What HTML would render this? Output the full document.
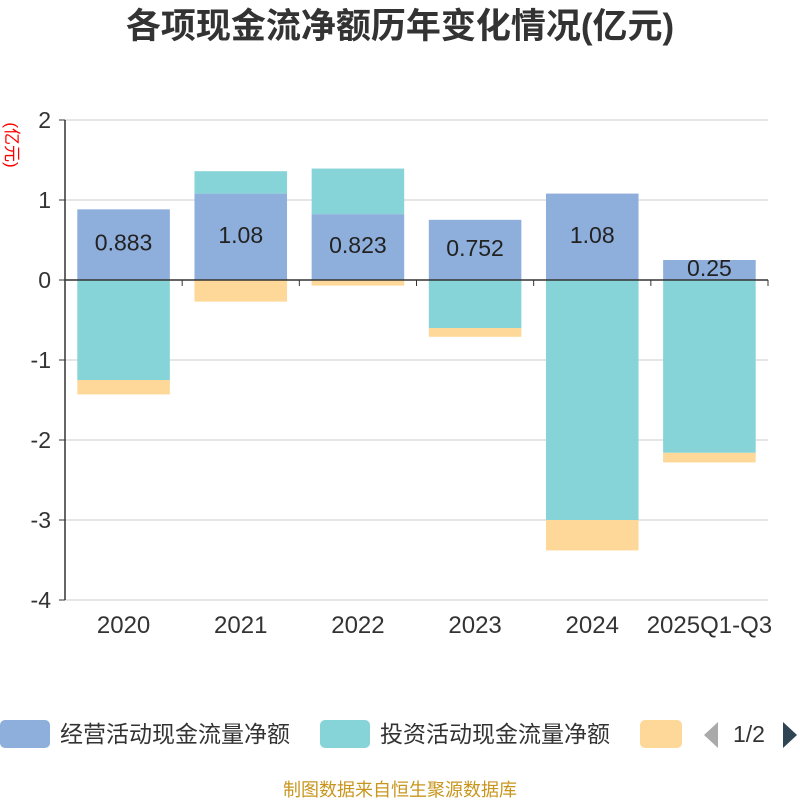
<!DOCTYPE html>
<html><head><meta charset="utf-8"><style>
body{margin:0;background:#fff;font-family:"Liberation Sans","Noto Sans CJK SC",sans-serif}
</style></head><body>
<svg width="800" height="800" xmlns="http://www.w3.org/2000/svg" font-family="Liberation Sans, Noto Sans CJK SC, sans-serif">
<text x="400" y="38" text-anchor="middle" font-size="35" font-weight="bold" fill="#333">各项现金流净额历年变化情况(亿元)</text>
<text transform="translate(6,145) rotate(90)" text-anchor="middle" font-size="17" fill="#f00">(亿元)</text>
<g id="grid"></g><g id="bars"></g><g id="axes"></g>
<g font-size="23" fill="#333">
<rect x="0" y="720" width="50" height="28" rx="5" fill="#8eaedb"/>
<text x="60" y="742">经营活动现金流量净额</text>
<rect x="320" y="720" width="50" height="28" rx="5" fill="#87d4d8"/>
<text x="380" y="742">投资活动现金流量净额</text>
<rect x="640" y="720" width="42" height="28" rx="5" fill="#fdd899"/>
<polygon points="718,722 718,748 704,735" fill="#aaa"/>
<text x="733" y="742">1/2</text>
<polygon points="783,722 783,748 797,735" fill="#2f4554"/>
</g>
<text x="400" y="796" text-anchor="middle" font-size="18" fill="#c8961e">制图数据来自恒生聚源数据库</text>
</svg>
<script>
const categories=["2020","2021","2022","2023","2024","2025Q1-Q3"];
const operating=[0.883,1.08,0.823,0.752,1.08,0.25];
const investing=[-1.25,0.28,0.57,-0.6,-3.0,-2.16];
const financing=[-0.18,-0.27,-0.07,-0.11,-0.38,-0.12];
const yTicks=[2,1,0,-1,-2,-3,-4];
const NS="http://www.w3.org/2000/svg";
const x0=65,x1=768,yTop=120,yBot=600,yMax=2,yMin=-4;
const y=v=>yTop+(yMax-v)/(yMax-yMin)*(yBot-yTop);
const band=(x1-x0)/categories.length;
function mk(tag,attrs,parent){const e=document.createElementNS(NS,tag);for(const k in attrs)e.setAttribute(k,attrs[k]);document.getElementById(parent).appendChild(e);return e;}
yTicks.forEach(t=>{
  const g=mk('line',{x1:x0,x2:x1,y1:y(t),y2:y(t),stroke:'#ccc','stroke-width':1},'grid');
  
  
  const tk=mk('line',{x1:x0-6,x2:x0,y1:y(t),y2:y(t),stroke:'#333'},'axes');
  
  
  const l=mk('text',{x:x0-14,y:y(t)+8,'text-anchor':'end','font-size':23,fill:'#333'},'axes');
  l.textContent=t;
  
  
});
const ya=mk('line',{x1:x0,x2:x0,y1:yTop,y2:yBot,stroke:'#333','stroke-width':1.5},'axes');


const xa=mk('line',{x1:x0,x2:x1,y1:y(0),y2:y(0),stroke:'#333','stroke-width':1.5},'axes');


for(let i=0;i<=categories.length;i++){
  const tk=mk('line',{x1:x0+i*band,x2:x0+i*band,y1:y(0),y2:y(0)+6,stroke:'#333'},'axes');
  
  
}
function rect(v0,v1,xi,color,name){
  const r=mk('rect',{x:xi,y:Math.min(y(v0),y(v1)),width:band*0.79,height:Math.abs(y(v1)-y(v0)),fill:color},'bars');
  
  
}
categories.forEach((c,i)=>{
  const xi=x0+i*band+band*0.105;
  let pos=0,neg=0;
  [[operating[i],'#8eaedb','bar-operating'],[investing[i],'#87d4d8','bar-investing'],[financing[i],'#fdd899','bar-financing']].forEach(([v,col,n])=>{
    if(v>=0){rect(pos,pos+v,xi,col,n);pos+=v;}else{rect(neg,neg+v,xi,col,n);neg+=v;}
  });
  const lab=mk('text',{x:xi+band*0.395,y:y(operating[i]/2)+6,'text-anchor':'middle','font-size':23,fill:'#222'},'bars');
  lab.textContent=operating[i];
  
  
  const xl=mk('text',{x:x0+(i+0.5)*band,y:633,'text-anchor':'middle','font-size':24,fill:'#333'},'axes');
  xl.textContent=c;
  
  
});
</script>
</body></html>
